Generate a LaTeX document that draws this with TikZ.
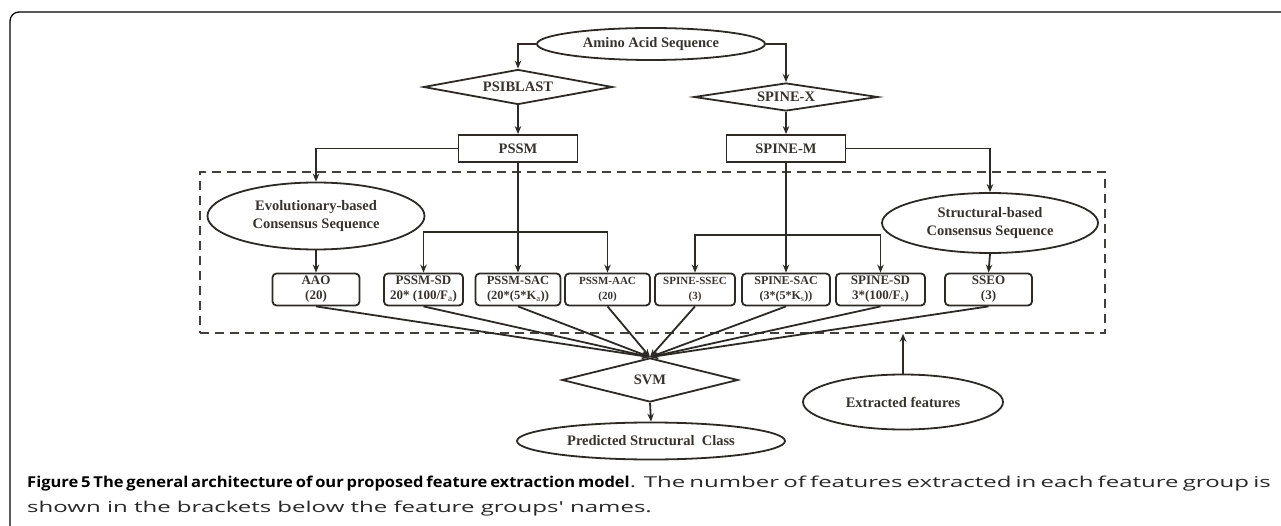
\documentclass[tikz,border=0pt]{standalone}
\usepackage{fontspec}
\setmainfont{Liberation Serif}
\newfontfamily\capfont[FakeStretch=1.6]{Open Sans}
\newfontfamily\capbold[FakeStretch=1.1]{Open Sans}
\usepackage{tikz}
\usetikzlibrary{shapes.geometric,arrows.meta}
\pgfdeclarelayer{background}
\pgfdeclarelayer{foreground}
\pgfsetlayers{background,main,foreground}
\definecolor{ln}{RGB}{45,42,38}
\definecolor{txt}{RGB}{55,50,45}
\definecolor{captxt}{RGB}{40,40,40}
\tikzset{
  lbl/.style={font=\fontsize{14.5}{18}\selectfont\bfseries, text=txt, align=center},
  oval/.style={ellipse, draw=ln, line width=1.8pt, inner sep=0pt, lbl},
  dmd/.style={diamond, aspect=5, draw=ln, line width=1.8pt, inner sep=0pt, lbl},
  sqbox/.style={rectangle, draw=ln, line width=1.8pt, inner sep=0pt, minimum width=119pt, minimum height=27pt, lbl},
  feat/.style={rectangle, rounded corners=4pt, draw=ln, line width=1.8pt, inner sep=0pt, minimum height=32pt, text=txt, align=center, font=\fontsize{13}{15}\selectfont\bfseries},
  arr/.style={draw=ln, line width=1.8pt, -{Stealth[length=8pt,width=6.5pt]}},
}
\begin{document}
\begin{tikzpicture}[x=1pt,y=-1pt]
\useasboundingbox (0,0) rectangle (1281,526);
\draw[line width=1.3pt, rounded corners=9pt] (10,540) -- (10,12) -- (1290,12); % frame

% top of the flow
\node[oval, minimum width=228pt, minimum height=32pt] (amino) at (651,44) {Amino Acid Sequence};
\node[dmd, minimum width=189pt, minimum height=35pt] (psiblast) at (518,87) {PSIBLAST};
\node[dmd, minimum width=184pt, minimum height=28pt] (spinex) at (786,97) {SPINE-X};
\node[sqbox] (pssm) at (518,148.5) {PSSM};
\node[sqbox] (spinem) at (786,148.5) {SPINE-M};

% consensus sequences
\node[oval, minimum width=217pt, minimum height=67pt] (evo) at (316,216) {Evolutionary-based\\Consensus Sequence};
\node[oval, minimum width=216pt, minimum height=60pt] (str) at (990,223) {Structural-based\\Consensus Sequence};

% feature groups
\node[feat, minimum width=87pt] (aao) at (316,289.5) {AAO\\(20)};
\node[feat, minimum width=79pt] (pssmsd) at (423.5,289.5) {PSSM-SD\\20* (100/F$_{\mathrm{a}}$)};
\node[feat, minimum width=85pt, font=\fontsize{12.5}{15}\selectfont\bfseries] (pssmsac) at (518,289.5) {PSSM-SAC\\(20*(5*K$_{\mathrm{a}}$))};
\node[feat, minimum width=85pt, font=\fontsize{11}{15}\selectfont\bfseries] (pssmaac) at (607.5,289.5) {PSSM-AAC\\(20)};
\node[feat, minimum width=80pt, font=\fontsize{11}{15}\selectfont\bfseries] (spinessec) at (695,289.5) {SPINE-SSEC\\(3)};
\node[feat, minimum width=88pt, font=\fontsize{12}{15}\selectfont\bfseries] (spinesac) at (786,289.5) {SPINE-SAC\\(3*(5*K$_{\mathrm{s}}$))};
\node[feat, minimum width=89pt] (spinesd) at (880.5,289.5) {SPINE-SD\\3*(100/F$_{\mathrm{s}}$)};
\node[feat, minimum width=87pt] (sseo) at (988.5,289.5) {SSEO\\(3)};

% classifier
\node[dmd, minimum width=176pt, minimum height=44pt] (svm) at (650,380) {SVM};
\node[oval, minimum width=268pt, minimum height=37pt] (pred) at (651,441) {Predicted Structural~ Class};
\node[oval, minimum width=200pt, minimum height=55pt] (ext) at (903,402) {Extracted features};

\begin{pgfonlayer}{background}
\node[draw=ln!90, dashed, dash pattern=on 9pt off 6pt, line width=1.6pt, minimum width=905pt, minimum height=161pt, inner sep=0pt] (grp) at (652.5,252.5) {};
\end{pgfonlayer}

\coordinate (pb) at (pssm.south |- 0,232);
\coordinate (sb) at (spinem.south |- 0,235);

\draw[arr] (amino.west) -| (psiblast.north);
\draw[arr] (amino.east) -| (spinex.north);
\draw[arr] (psiblast.south) -- (pssm.north);
\draw[arr] (spinex.south) -- (spinem.north);
\draw[arr] (pssm.west) -| (evo.north);
\draw[arr] (spinem.east) -| (str.north);
\draw[arr] (evo.south) -- (aao.north);
\draw[arr] (str.south) -- (sseo.north);
\draw[arr] (pssm.south) -- (pssmsac.north);
\draw[arr] (pb) -| (pssmsd.north);
\draw[arr] (pb) -| (pssmaac.north);
\draw[arr] (spinem.south) -- (spinesac.north);
\draw[arr] (sb) -| (spinessec.north);
\draw[arr] (sb) -| (spinesd.north);
\foreach \f in {aao,pssmsd,pssmsac,pssmaac,spinessec,spinesac,spinesd,sseo}
  \draw[arr] (\f.south) -- (svm.north);
\draw[arr] (svm.south) -- (pred.north);
\draw[arr] (ext.north) -- (ext.north |- grp.south);

% caption
\node[anchor=base west, inner sep=0pt, text=captxt] (cap1) at (27,487) {\fontsize{15}{20}\selectfont\makebox[1240pt][s]{\capbold\bfseries\color{black}Figure 5 The general architecture of our proposed feature extraction model\capfont\mdseries\color{captxt}. The number of features extracted in each feature group is}};
\node[anchor=base west, inner sep=0pt, text=captxt] (cap2) at (27,512) {\capfont\fontsize{15}{20}\selectfont shown in the brackets below the feature groups' names.};
\end{tikzpicture}
\end{document}
